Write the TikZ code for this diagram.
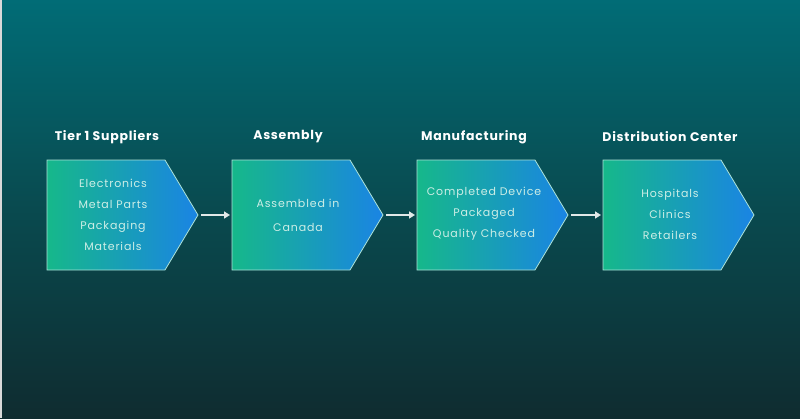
\documentclass[tikz,border=0pt]{standalone}
\usepackage{fontspec}
\setmainfont{Poppins}
\newfontfamily\bodyfont[LetterSpace=8]{Poppins}
\newfontfamily\headfont[LetterSpace=6]{Poppins}
\usetikzlibrary{arrows.meta}
\definecolor{bgtop}{RGB}{1,108,118}
\definecolor{bgmid}{RGB}{9,74,79}
\definecolor{bgbot}{RGB}{15,44,48}
\definecolor{cgreen}{RGB}{22,184,138}
\definecolor{cblue}{RGB}{26,132,228}
\definecolor{cedge}{RGB}{170,225,215}
\definecolor{txt}{RGB}{205,238,230}
\definecolor{arrowc}{RGB}{225,232,232}
\begin{document}
\begin{tikzpicture}[x=1pt,y=-1pt,
  chev/.style={left color=cgreen,right color=cblue,draw=cedge,line width=0.8pt},
  body/.style={font=\bodyfont\fontsize{11}{21}\selectfont,text=txt,align=center,inner sep=0pt},
  head/.style={font=\headfont\bfseries\fontsize{12.5}{14}\selectfont,text=white,inner sep=0pt},
  arr/.style={draw=arrowc,line width=1.6pt,-{Triangle[length=6pt,width=7pt]}}]
\shade[top color=bgtop,bottom color=bgbot,middle color=bgmid] (0,0) rectangle (800,418);
\useasboundingbox (0,0) rectangle (800,418);
\fill[gray!30] (0,0) rectangle (1.5,418);
\foreach \i/\L in {1/47,2/232,3/417,4/603}{
  \shade[chev] (\L,160) -- (\L+118,160) -- (\L+151,215) -- (\L+118,270) -- (\L,270) -- cycle;
  \coordinate (tip\i) at (\L+151,215);
  \coordinate (in\i) at (\L,215);
}
\draw[arr] ([xshift=3pt]tip1) -- ([xshift=-2pt]in2);
\draw[arr] ([xshift=3pt]tip2) -- ([xshift=-2pt]in3);
\draw[arr] ([xshift=3pt]tip3) -- ([xshift=-2pt]in4);
\node[head] (h1) at (107,137) {Tier 1 Suppliers};
\node[head] (h2) at (288,137) {Assembly};
\node[head] (h3) at (474,137) {Manufacturing};
\node[head] (h4) at (670,137) {Distribution Center};
\node[body] (t1) at (113,215) {Electronics\\Metal Parts\\Packaging\\Materials};
\node[body,font=\bodyfont\fontsize{11}{24}\selectfont] (t2) at (298,215) {Assembled in\\Canada};
\node[body] (t3) at (484,214) {Completed Device\\Packaged\\Quality Checked};
\node[body] (t4) at (670,214) {Hospitals\\Clinics\\Retailers};
\end{tikzpicture}
\end{document}
